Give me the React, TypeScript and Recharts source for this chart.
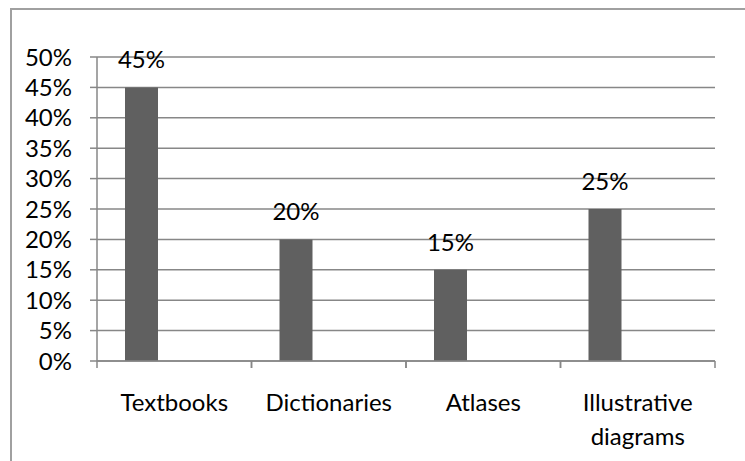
import { BarChart, Bar, XAxis, YAxis, CartesianGrid, LabelList } from 'recharts';

const categories = ['Textbooks', 'Dictionaries', 'Atlases', 'Illustrative diagrams'];
const shares = [45, 20, 15, 25];
const yTicks = [0, 5, 10, 15, 20, 25, 30, 35, 40, 45, 50];

const data = categories.map((name, i) => ({ name, value: shares[i] }));

const FONT = 'Lato, "Open Sans", sans-serif';
const GRID = '#878787';

// category label plus Excel-style tick marks on the band edges
const CategoryTick = ({ x, y, payload }: any) => {
  const lines = String(payload.value).split(' ');
  const half = payload.offset || 0;
  return (
    <g>
      <line x1={x - half} x2={x - half} y1={y} y2={y + 7} stroke={GRID} strokeWidth={1.5} />
      <line x1={x + half} x2={x + half} y1={y} y2={y + 7} stroke={GRID} strokeWidth={1.5} />
      <text x={x} y={y} textAnchor="middle" fontFamily={FONT} fontSize={24} fill="#000">
        {lines.map((l, i) => (
          <tspan key={i} x={x} dy={i === 0 ? 50 : 34}>
            {l}
          </tspan>
        ))}
      </text>
    </g>
  );
};

export default function App() {
  return (
    <div style={{ position: 'absolute', left: 0, top: 0, width: 745, height: 461, overflow: 'hidden', background: '#fff' }}>
      <div
        style={{
          position: 'absolute',
          left: 10,
          top: 8,
          width: 800,
          height: 500,
          borderLeft: '2px solid #a0a0a0',
          borderTop: '2px solid #a0a0a0',
        }}
      />
      <div style={{ position: 'absolute', left: 0, top: 0 }}>
        <BarChart
          width={745}
          height={461}
          data={data}
          margin={{ top: 57, right: 30, left: 0, bottom: 0 }}
          barGap={0}
          barSize={33}
        >
          <CartesianGrid vertical={false} stroke={GRID} strokeWidth={1.5} />
          <XAxis
            dataKey="name"
            height={100}
            stroke={GRID}
            strokeWidth={1.5}
            tickLine={false}
            tickSize={0}
            tickMargin={0}
            interval={0}
            tick={<CategoryTick />}
          />
          <YAxis
            width={97}
            domain={[0, 50]}
            ticks={yTicks}
            interval={0}
            tickFormatter={(v) => `${v}%`}
            tickSize={7}
            tickMargin={18}
            stroke={GRID}
            strokeWidth={1.5}
            tick={{ fill: '#000', fontFamily: FONT, fontSize: 24 }}
          />
          <Bar dataKey="value" fill="#606060" isAnimationActive={false}>
            <LabelList
              dataKey="value"
              position="top"
              offset={19}
              formatter={(v: any) => `${v}%`}
              fill="#000"
              fontFamily={FONT}
              fontSize={24}
            />
          </Bar>
          <Bar dataKey="second" fill="#a0a0a0" isAnimationActive={false} />
          <Bar dataKey="third" fill="#c0c0c0" isAnimationActive={false} />
        </BarChart>
      </div>
    </div>
  );
}
